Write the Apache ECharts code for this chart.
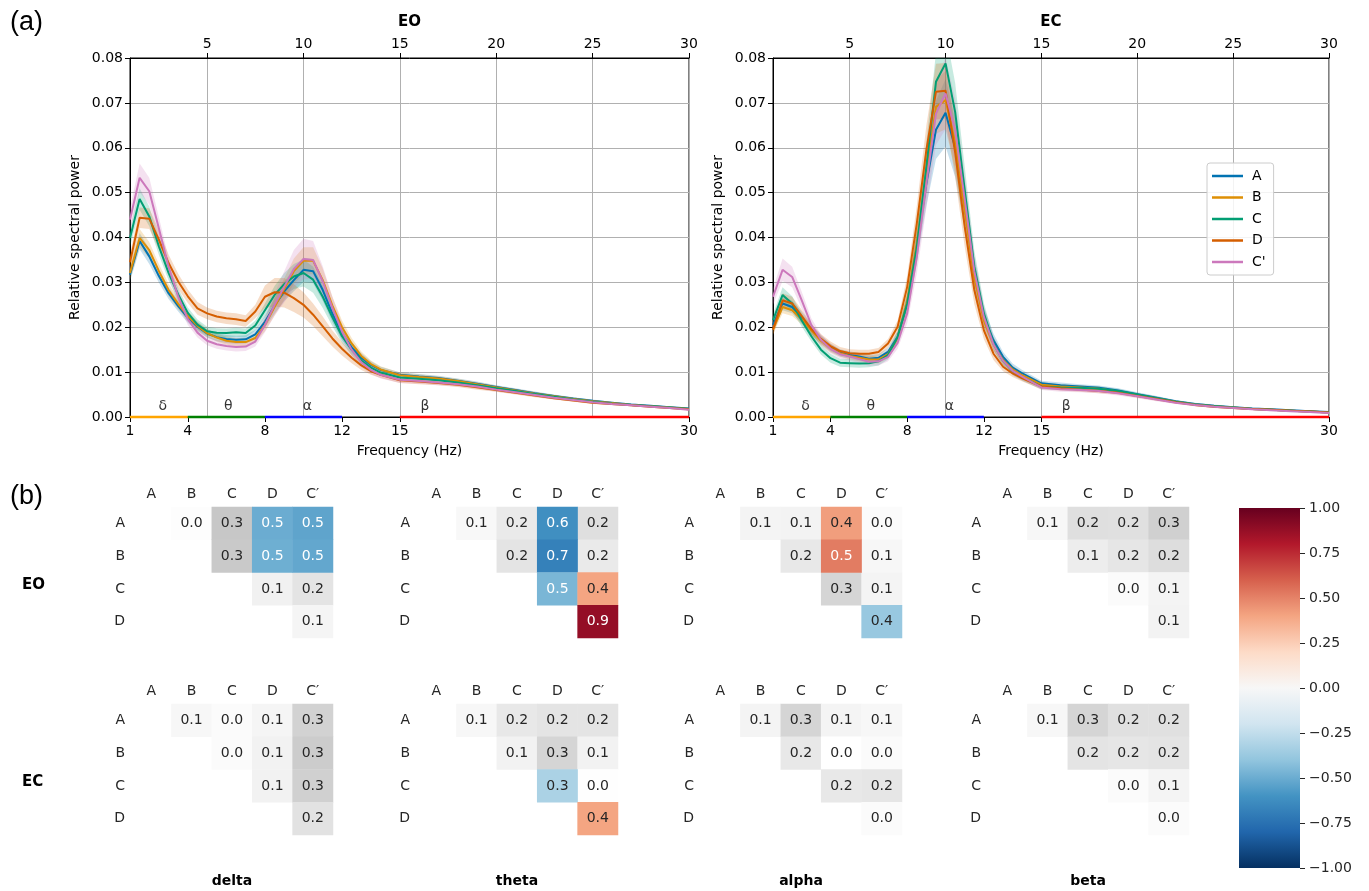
<!DOCTYPE html>
<html>
<head>
<meta charset="utf-8">
<script src="https://cdn.jsdelivr.net/npm/echarts@6/dist/echarts.min.js"></script>
<style>html,body{margin:0;padding:0;background:#fff}#chart{width:1369px;height:891px}</style>
</head>
<body>
<div id="chart"></div>
<script>
// spectra, 1-14 Hz every 0.5 Hz then 1 Hz steps
const freq = [1,1.5,2,2.5,3,3.5,4,4.5,5,5.5,6,6.5,7,7.5,8,8.5,9,9.5,10,10.5,11,11.5,12,12.5,13,13.5,14,15,16,17,18,19,20,21,22,23,24,25,26,27,28,29,30];

const eoA  = [.0317,.0392,.0358,.0314,.0276,.0247,.0221,.0201,.0186,.0178,.0174,.0172,.0173,.0184,.0212,.0248,.0280,.0305,.0328,.0325,.0283,.0230,.0186,.0155,.0132,.0116,.0105, .0094,.0090,.0087,.0081,.0074,.0067,.0060,.0053,.0047,.0041,.0036,.0032,.0028,.0025,.0022,.0019];
const eoB  = [.0321,.0399,.0372,.0325,.0283,.0252,.0225,.0203,.0187,.0177,.0170,.0167,.0167,.0176,.0205,.0245,.0285,.0325,.0348,.0348,.0305,.0248,.0200,.0164,.0136,.0118,.0106, .0093,.0089,.0086,.0080,.0073,.0066,.0059,.0052,.0046,.0040,.0035,.0031,.0027,.0024,.0021,.0018];
const eoC  = [.0399,.0486,.0447,.0380,.0321,.0273,.0232,.0206,.0191,.0188,.0187,.0189,.0187,.0204,.0238,.0272,.0296,.0313,.0321,.0306,.0268,.0222,.0180,.0150,.0126,.0110,.0099, .0088,.0085,.0082,.0077,.0071,.0064,.0058,.0051,.0045,.0039,.0034,.0030,.0027,.0024,.0021,.0018];
const eoD  = [.0345,.0444,.0442,.0395,.0343,.0302,.0269,.0242,.0231,.0224,.0220,.0218,.0214,.0235,.0268,.0278,.0277,.0265,.0250,.0228,.0202,.0175,.0152,.0132,.0115,.0102,.0094, .0082,.0079,.0076,.0072,.0066,.0060,.0054,.0048,.0042,.0037,.0032,.0029,.0026,.0023,.0020,.0017];
const eoCp = [.0440,.0533,.0503,.0420,.0335,.0268,.0218,.0188,.0170,.0162,.0158,.0156,.0157,.0168,.0205,.0250,.0290,.0330,.0352,.0350,.0302,.0243,.0190,.0150,.0122,.0105,.0094, .0083,.0080,.0077,.0073,.0068,.0061,.0055,.0049,.0043,.0038,.0033,.0029,.0026,.0023,.0020,.0016];

const eoAci  = [.0015,.0018,.0017,.0015,.0013,.0012,.0011,.0010,.0009,.0009,.0009,.0009,.0009,.0010,.0013,.0018,.0022,.0025,.0027,.0027,.0024,.0019,.0015,.0012,.0010,.0008,.0007, .0006,.0006,.0005,.0005,.0005,.0004,.0004,.0004,.0003,.0003,.0003,.0002,.0002,.0002,.0002,.0002];
const eoBci  = [.0016,.0020,.0018,.0016,.0014,.0012,.0011,.0010,.0009,.0009,.0009,.0009,.0009,.0010,.0014,.0019,.0024,.0028,.0030,.0030,.0026,.0020,.0015,.0012,.0010,.0008,.0007, .0006,.0006,.0005,.0005,.0005,.0004,.0004,.0004,.0003,.0003,.0003,.0002,.0002,.0002,.0002,.0002];
const eoCci  = [.0020,.0024,.0022,.0019,.0016,.0014,.0012,.0011,.0010,.0010,.0010,.0010,.0010,.0011,.0015,.0020,.0025,.0028,.0030,.0029,.0025,.0020,.0015,.0012,.0010,.0008,.0007, .0006,.0006,.0006,.0005,.0005,.0005,.0004,.0004,.0004,.0003,.0003,.0003,.0002,.0002,.0002,.0002];
const eoDci  = [.0018,.0023,.0023,.0021,.0019,.0017,.0015,.0014,.0013,.0013,.0013,.0013,.0013,.0015,.0025,.0032,.0033,.0031,.0028,.0025,.0022,.0018,.0015,.0012,.0010,.0008,.0007, .0006,.0006,.0005,.0005,.0005,.0004,.0004,.0004,.0003,.0003,.0003,.0002,.0002,.0002,.0002,.0002];
const eoCpci = [.0025,.0032,.0030,.0025,.0020,.0016,.0013,.0011,.0010,.0010,.0010,.0010,.0010,.0011,.0016,.0025,.0035,.0042,.0045,.0042,.0034,.0025,.0018,.0014,.0011,.0009,.0008, .0007,.0006,.0006,.0005,.0005,.0005,.0004,.0004,.0004,.0003,.0003,.0003,.0002,.0002,.0002,.0002];

const ecA  = [.0205,.0253,.0245,.0222,.0195,.0172,.0155,.0143,.0138,.0135,.0130,.0132,.0145,.0179,.0253,.0380,.0521,.0640,.0678,.0600,.0469,.0320,.0223,.0171,.0134,.0110,.0097, .0075,.0071,.0068,.0065,.0059,.0051,.0043,.0035,.0029,.0025,.0022,.0019,.0017,.0015,.0013,.0011];
const ecB  = [.0195,.0245,.0238,.0218,.0193,.0170,.0153,.0142,.0136,.0132,.0128,.0128,.0140,.0176,.0258,.0385,.0543,.0691,.0706,.0612,.0462,.0310,.0215,.0162,.0127,.0106,.0093, .0072,.0068,.0066,.0063,.0057,.0049,.0041,.0034,.0028,.0024,.0021,.0018,.0016,.0014,.0012,.0010];
const ecC  = [.0216,.0272,.0253,.0215,.0180,.0150,.0131,.0121,.0120,.0119,.0120,.0124,.0138,.0178,.0253,.0378,.0558,.0747,.0788,.0680,.0506,.0335,.0231,.0164,.0125,.0102,.0089, .0068,.0066,.0065,.0063,.0058,.0050,.0042,.0034,.0028,.0024,.0021,.0018,.0016,.0014,.0012,.0010];
const ecD  = [.0195,.0260,.0253,.0225,.0196,.0174,.0158,.0147,.0142,.0141,.0141,.0145,.0164,.0201,.0290,.0431,.0595,.0725,.0727,.0590,.0424,.0283,.0193,.0141,.0112,.0097,.0086, .0068,.0064,.0061,.0058,.0054,.0047,.0040,.0033,.0027,.0023,.0020,.0018,.0016,.0014,.0012,.0010];
const ecCp = [.0268,.0328,.0312,.0260,.0205,.0172,.0152,.0140,.0135,.0129,.0123,.0124,.0134,.0165,.0231,.0357,.0521,.0676,.0721,.0640,.0485,.0325,.0223,.0162,.0125,.0103,.0090, .0066,.0062,.0060,.0058,.0053,.0046,.0039,.0032,.0027,.0023,.0020,.0017,.0015,.0013,.0011,.0009];

const ecAci  = [.0012,.0015,.0014,.0013,.0011,.0010,.0009,.0008,.0008,.0008,.0008,.0008,.0009,.0012,.0020,.0035,.0050,.0065,.0075,.0065,.0050,.0035,.0022,.0015,.0011,.0009,.0008, .0006,.0006,.0005,.0005,.0005,.0004,.0004,.0003,.0003,.0003,.0002,.0002,.0002,.0002,.0002,.0002];
const ecBci  = [.0011,.0014,.0013,.0012,.0011,.0010,.0009,.0008,.0008,.0008,.0008,.0008,.0009,.0012,.0020,.0035,.0050,.0060,.0065,.0060,.0048,.0033,.0020,.0014,.0010,.0008,.0007, .0006,.0005,.0005,.0005,.0004,.0004,.0004,.0003,.0003,.0003,.0002,.0002,.0002,.0002,.0002,.0002];
const ecCci  = [.0013,.0017,.0016,.0014,.0012,.0011,.0010,.0009,.0009,.0009,.0009,.0009,.0010,.0013,.0022,.0038,.0055,.0065,.0070,.0065,.0052,.0036,.0023,.0015,.0011,.0009,.0008, .0006,.0006,.0005,.0005,.0005,.0004,.0004,.0003,.0003,.0003,.0002,.0002,.0002,.0002,.0002,.0002];
const ecDci  = [.0012,.0016,.0015,.0014,.0012,.0011,.0010,.0009,.0009,.0009,.0009,.0009,.0010,.0014,.0025,.0040,.0055,.0062,.0062,.0055,.0045,.0032,.0020,.0014,.0010,.0008,.0007, .0006,.0005,.0005,.0005,.0004,.0004,.0004,.0003,.0003,.0003,.0002,.0002,.0002,.0002,.0002,.0002];
const ecCpci = [.0018,.0025,.0023,.0019,.0015,.0012,.0010,.0009,.0009,.0009,.0009,.0009,.0010,.0013,.0022,.0038,.0055,.0070,.0080,.0070,.0052,.0036,.0022,.0015,.0011,.0009,.0008, .0006,.0006,.0005,.0005,.0005,.0004,.0004,.0003,.0003,.0003,.0002,.0002,.0002,.0002,.0002,.0002];

const groups = ['A', 'B', 'C', 'D', "C'"];
const groupColors = ['#0173b2', '#de8f05', '#029e73', '#d55e00', '#cc78bc'];
const condNames = ['EO', 'EC'];
const means = [[eoA, eoB, eoC, eoD, eoCp], [ecA, ecB, ecC, ecD, ecCp]];
const cis = [[eoAci, eoBci, eoCci, eoDci, eoCpci], [ecAci, ecBci, ecCci, ecDci, ecCpci]];

const bottomTicks = [1, 4, 8, 12, 15, 30];
const topTicks = [5, 10, 15, 20, 25, 30];
const bandNames = ['δ', 'θ', 'α', 'β'];
const bandFrom = [1, 4, 8, 15];
const bandTo = [4, 8, 12, 30];
const bandColors = ['#ffa500', '#008000', '#0000ff', '#ff0000'];
const bandLabelX = [2.7, 6.1, 10.2, 16.3];

// effect sizes, pairs in order A-B, A-C, A-D, A-C', B-C, B-D, B-C', C-D, C-C', D-C'
const heatRows = ['A', 'B', 'C', 'D'];
const heatCols = ['A', 'B', 'C', 'D', 'C′'];
const bandTitles = ['delta', 'theta', 'alpha', 'beta'];
const eoDelta = [0.02, 0.33, -0.50, -0.53, 0.32, -0.49, -0.52, 0.12, 0.19, 0.08];
const eoTheta = [0.06, 0.16, -0.62, 0.22, 0.19, -0.68, 0.16, -0.46, 0.40, 0.88];
const eoAlpha = [0.09, 0.10, 0.42, 0.03, 0.17, 0.52, 0.07, 0.27, 0.09, -0.38];
const eoBeta  = [0.07, 0.22, 0.21, 0.29, 0.14, 0.18, 0.23, 0.03, 0.09, 0.10];
const ecDelta = [0.07, 0.03, 0.08, 0.28, 0.03, 0.11, 0.31, 0.11, 0.29, 0.20];
const ecTheta = [0.07, 0.17, 0.19, 0.19, 0.11, 0.27, 0.11, -0.32, 0.01, 0.40];
const ecAlpha = [0.09, 0.27, 0.09, 0.07, 0.17, 0.00, 0.03, 0.17, 0.18, 0.03];
const ecBeta  = [0.07, 0.27, 0.21, 0.21, 0.19, 0.18, 0.19, 0.03, 0.09, 0.03];
const eoDeltaSig = [0, 0, 1, 1, 0, 1, 1, 0, 0, 0];
const eoThetaSig = [0, 0, 1, 0, 0, 1, 0, 1, 1, 1];
const eoAlphaSig = [0, 0, 1, 0, 0, 1, 0, 0, 0, 1];
const eoBetaSig  = [0, 0, 0, 0, 0, 0, 0, 0, 0, 0];
const ecDeltaSig = [0, 0, 0, 0, 0, 0, 0, 0, 0, 0];
const ecThetaSig = [0, 0, 0, 0, 0, 0, 0, 1, 0, 1];
const ecAlphaSig = [0, 0, 0, 0, 0, 0, 0, 0, 0, 0];
const ecBetaSig  = [0, 0, 0, 0, 0, 0, 0, 0, 0, 0];
const effects = [[eoDelta, eoTheta, eoAlpha, eoBeta], [ecDelta, ecTheta, ecAlpha, ecBeta]];
const sigs = [[eoDeltaSig, eoThetaSig, eoAlphaSig, eoBetaSig], [ecDeltaSig, ecThetaSig, ecAlphaSig, ecBetaSig]];

const rdbu = ['#053061', '#2166ac', '#4393c3', '#92c5de', '#d1e5f0', '#f7f7f7', '#fddbc7', '#f4a582', '#d6604d', '#b2182b', '#67001f'];
const greys = ['#ffffff', '#f0f0f0', '#d9d9d9', '#bdbdbd', '#969696', '#737373', '#525252', '#252525', '#000000'];

const FONT = 'DejaVu Sans';
const FS = 14;
const txt = (size, extra) => Object.assign({fontSize: size, color: '#000', fontFamily: FONT}, extra || {});

const lineGrids = [{left: 130, top: 58, width: 559, height: 359}, {left: 773, top: 58, width: 556, height: 359}];
const heatLeft = [131, 416, 700, 987];
const heatTop = [507, 704];
const cellW = 40.4, cellH = 32.75;
const cbox = {left: 1239, top: 508, width: 61, height: 360};

const grid = [], xAxis = [], yAxis = [], series = [];
const sigIdx = [], grayIdx = [];

// ---- (a) spectra ----
condNames.forEach((cond, gi) => {
    grid.push(Object.assign({show: true, borderColor: '#000', borderWidth: 1}, lineGrids[gi]));
    xAxis.push({
        gridIndex: gi, type: 'value', min: 1, max: 30, position: 'bottom',
        name: 'Frequency (Hz)', nameLocation: 'middle', nameGap: 27, nameTextStyle: txt(FS),
        axisLine: {show: true, onZero: false, lineStyle: {color: '#000'}},
        axisTick: {show: true, length: 5, customValues: bottomTicks, lineStyle: {color: '#000'}},
        axisLabel: {customValues: bottomTicks, margin: 7, fontSize: FS, color: '#000', fontFamily: FONT},
        splitLine: {show: false}
    });
    xAxis.push({
        gridIndex: gi, type: 'value', min: 1, max: 30, position: 'top',
        name: cond, nameLocation: 'middle', nameGap: 28, nameTextStyle: txt(15, {fontWeight: 'bold'}),
        axisLine: {show: true, onZero: false, lineStyle: {color: '#000'}},
        axisTick: {show: true, length: 5, customValues: topTicks, lineStyle: {color: '#000'}},
        axisLabel: {customValues: topTicks, margin: 7, fontSize: FS, color: '#000', fontFamily: FONT},
        splitLine: {show: true, lineStyle: {color: '#b0b0b0', width: 1}}
    });
    yAxis.push({
        gridIndex: gi, type: 'value', min: 0, max: 0.08, interval: 0.01,
        name: 'Relative spectral power', nameLocation: 'middle', nameGap: 48, nameTextStyle: txt(FS),
        axisLine: {show: true, onZero: false, lineStyle: {color: '#000'}},
        axisTick: {show: true, length: 5, lineStyle: {color: '#000'}},
        axisLabel: {formatter: v => v.toFixed(2), margin: 7, fontSize: FS, color: '#000', fontFamily: FONT},
        splitLine: {show: true, lineStyle: {color: '#b0b0b0', width: 1}}
    });

    groups.forEach((g, k) => {
        const m = means[gi][k], c = cis[gi][k];
        series.push({
            type: 'custom', name: g + '-ci', xAxisIndex: gi * 2, yAxisIndex: gi,
            silent: true, clip: true, z: 1, data: [0],
            renderItem: (params, api) => {
                const up = freq.map((f, i) => api.coord([f, m[i] + c[i]]));
                const lo = freq.map((f, i) => api.coord([f, m[i] - c[i]])).reverse();
                return {type: 'polygon', shape: {points: up.concat(lo)}, style: {fill: groupColors[k], opacity: 0.22}};
            }
        });
    });
    groups.forEach((g, k) => {
        series.push({
            type: 'line', name: g, xAxisIndex: gi * 2, yAxisIndex: gi, z: 3,
            symbol: 'none', silent: true,
            lineStyle: {width: 2, color: groupColors[k]}, itemStyle: {color: groupColors[k]},
            data: freq.map((f, i) => [f, means[gi][k][i]])
        });
    });
    bandNames.forEach((b, j) => {
        series.push({
            type: 'line', name: 'band' + j, xAxisIndex: gi * 2, yAxisIndex: gi, z: 6,
            symbol: 'none', silent: true, clip: false,
            lineStyle: {width: 2.5, color: bandColors[j]},
            data: [[bandFrom[j], 0], [bandTo[j], 0]]
        });
    });
    series.push({
        type: 'scatter', name: 'bandLabels', xAxisIndex: gi * 2, yAxisIndex: gi, z: 6,
        symbolSize: 0, silent: true,
        label: {show: true, position: 'top', distance: 4, fontSize: FS, color: '#000', fontFamily: FONT,
            formatter: p => bandNames[p.dataIndex]},
        data: bandLabelX.map(x => [x, 0])
    });
});

// ---- (b) effect size tables ----
function cells(vals, sig, wantSig) {
    const out = [];
    let k = 0;
    for (let r = 0; r < heatRows.length; r++) {
        for (let c = r + 1; c < heatCols.length; c++) {
            if (!!sig[k] === wantSig) {
                const v = wantSig ? vals[k] : Math.abs(vals[k]);
                const light = wantSig && Math.abs(v) >= 0.45;
                out.push({value: [c, r, v], label: {color: light ? '#ffffff' : '#262626'}});
            }
            k++;
        }
    }
    return out;
}

condNames.forEach((cond, ci) => {
    bandTitles.forEach((band, bi) => {
        const gIdx = grid.length;
        grid.push({left: heatLeft[bi], top: heatTop[ci], width: cellW * 5, height: cellH * 4});
        const xi = xAxis.length, yi = yAxis.length;
        xAxis.push({
            gridIndex: gIdx, type: 'category', data: heatCols, position: 'top',
            axisLine: {show: false}, axisTick: {show: false}, splitLine: {show: false},
            axisLabel: {margin: 6, fontSize: FS, color: '#262626', fontFamily: FONT}
        });
        yAxis.push({
            gridIndex: gIdx, type: 'category', data: heatRows, inverse: true,
            axisLine: {show: false}, axisTick: {show: false}, splitLine: {show: false},
            axisLabel: {margin: 6, fontSize: FS, color: '#262626', fontFamily: FONT}
        });
        const lbl = {show: true, fontSize: FS, fontFamily: FONT, formatter: p => Math.abs(p.value[2]).toFixed(1)};
        const gray = cells(effects[ci][bi], sigs[ci][bi], false);
        const sig = cells(effects[ci][bi], sigs[ci][bi], true);
        if (gray.length) {
            grayIdx.push(series.length);
            series.push({type: 'heatmap', xAxisIndex: xi, yAxisIndex: yi, data: gray, label: lbl,
                silent: true, emphasis: {disabled: true}});
        }
        if (sig.length) {
            sigIdx.push(series.length);
            series.push({type: 'heatmap', xAxisIndex: xi, yAxisIndex: yi, data: sig, label: lbl,
                silent: true, emphasis: {disabled: true}});
        }
    });
});

// colorbar tick axis, a 1px grid sitting on the bar's right edge
const cbGrid = grid.length;
grid.push({left: cbox.left + cbox.width, top: cbox.top, width: 1, height: cbox.height});
xAxis.push({gridIndex: cbGrid, type: 'value', show: false, min: 0, max: 1});
yAxis.push({
    gridIndex: cbGrid, type: 'value', position: 'right', min: -1, max: 1, interval: 0.25,
    axisLine: {show: false}, splitLine: {show: false},
    axisTick: {show: true, length: 5, lineStyle: {color: '#262626'}},
    axisLabel: {margin: 8, fontSize: FS, color: '#262626', fontFamily: FONT,
        formatter: v => (v < 0 ? '−' : '') + Math.abs(v).toFixed(2)}
});

const graphic = [
    {type: 'text', left: 10, top: 9, style: {text: '(a)', font: '27px "Liberation Sans"', fill: '#000'}},
    {type: 'text', left: 10, top: 483, style: {text: '(b)', font: '27px "Liberation Sans"', fill: '#000'}},
    {type: 'rect', shape: {x: cbox.left, y: cbox.top, width: cbox.width, height: cbox.height}, z: 0,
        style: {fill: new echarts.graphic.LinearGradient(0, 1, 0, 0,
            rdbu.map((c, i) => ({offset: i / (rdbu.length - 1), color: c})))}}
];
condNames.forEach((cond, ci) => {
    graphic.push({type: 'text', x: 22, y: heatTop[ci] + 2.4 * cellH,
        style: {text: cond, font: 'bold 15px "DejaVu Sans"', fill: '#000', verticalAlign: 'middle'}});
});
bandTitles.forEach((band, bi) => {
    graphic.push({type: 'text', x: heatLeft[bi] + 2.5 * cellW, y: 881,
        style: {text: band, font: 'bold 14px "DejaVu Sans"', fill: '#000', align: 'center', verticalAlign: 'middle'}});
});

const chart = echarts.init(document.getElementById('chart'));
chart.setOption({
    animation: false,
    backgroundColor: '#fff',
    textStyle: {fontFamily: FONT},
    grid, xAxis, yAxis, series, graphic,
    legend: {
        data: groups, orient: 'vertical', left: 1207, top: 163,
        icon: 'rect', itemWidth: 31, itemHeight: 2.5, itemGap: 7.5, padding: [6, 8, 6, 5],
        backgroundColor: 'rgba(255,255,255,0.85)', borderColor: '#cccccc', borderWidth: 1, borderRadius: 3,
        textStyle: {fontSize: FS, color: '#000', fontFamily: FONT, padding: [0, 0, 0, 4]}, selectedMode: false
    },
    visualMap: [
        {type: 'continuous', min: -1, max: 1, dimension: 2, seriesIndex: sigIdx, inRange: {color: rdbu}, show: false},
        {type: 'continuous', min: 0, max: 1, dimension: 2, seriesIndex: grayIdx, inRange: {color: greys}, show: false}
    ]
});
</script>
</body>
</html>
